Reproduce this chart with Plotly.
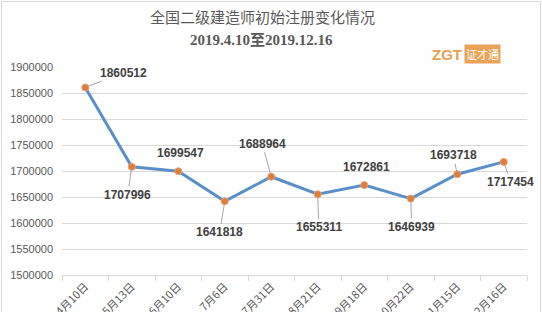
import plotly.graph_objects as go

categories = ["4月10日", "5月13日", "6月10日", "7月6日", "7月31日",
              "8月21日", "9月18日", "10月22日", "11月15日", "12月16日"]
values = [1860512, 1707996, 1699547, 1641818, 1688964,
          1655311, 1672861, 1646939, 1693718, 1717454]
y_ticks = [1500000, 1550000, 1600000, 1650000, 1700000,
           1750000, 1800000, 1850000, 1900000]

# label offsets (pixels) and whether a leader line is drawn
label_offsets = [(38, -15, True), (-4, 28, True), (2, -18, False), (-5, 31, True),
                 (-9, -33, True), (1, 33, True), (2, -18, False), (1, 28, True),
                 (-4, -19, True), (7, 20, True)]

W, H = 542, 312
L, R, T, B = 62, 15, 67, 37
pw, ph = W - L - R, H - T - B


def px(xp):
    return (xp - L) / pw


def py(yp):
    return (H - B - yp) / ph


fig = go.Figure()
fig.add_trace(go.Scatter(
    x=categories, y=values, mode="lines+markers",
    line=dict(color="#5B8FC7", width=3),
    marker=dict(color="#E07B39", size=7, line=dict(color="#E8A070", width=1)),
    hoverinfo="skip", showlegend=False,
))

annotations = []
for c, v, (ax, ay, lead) in zip(categories, values, label_offsets):
    annotations.append(dict(
        x=c, y=v, xref="x", yref="y", text=f"<b>{v}</b>",
        showarrow=True, ax=ax, ay=ay, axref="pixel", ayref="pixel",
        arrowhead=0, arrowwidth=1, standoff=3,
        arrowcolor="#A6A6A6" if lead else "rgba(0,0,0,0)",
        font=dict(family="Liberation Sans, Arial", size=12, color="#404040"),
    ))

annotations += [
    dict(x=px(262), y=py(17), xref="paper", yref="paper", showarrow=False,
         text="全国二级建造师初始注册变化情况", xanchor="center", yanchor="middle",
         font=dict(family="Noto Sans CJK SC", size=15, color="#595959")),
    dict(x=px(261), y=py(40), xref="paper", yref="paper", showarrow=False,
         text="<b>2019.4.10至2019.12.16</b>", xanchor="center", yanchor="middle",
         font=dict(family="Liberation Serif, Noto Sans CJK SC", size=15, color="#595959")),
    dict(x=px(447), y=py(54), xref="paper", yref="paper", showarrow=False,
         text="<b>ZGT</b>", xanchor="center", yanchor="middle",
         font=dict(family="Liberation Sans", size=15, color="#E8A050")),
    dict(x=px(482), y=py(54), xref="paper", yref="paper", showarrow=False,
         text="证才通", xanchor="center", yanchor="middle", bgcolor="#E9A45A",
         borderpad=1,
         font=dict(family="Noto Sans CJK SC", size=11, color="#FFFFFF")),
]

fig.update_layout(
    width=W, height=H,
    margin=dict(l=L, r=R, t=T, b=B, autoexpand=False),
    paper_bgcolor="#FFFFFF", plot_bgcolor="#FFFFFF",
    annotations=annotations,
    shapes=[dict(type="rect", xref="paper", yref="paper",
                 x0=px(1.5), x1=px(540.5), y0=py(330), y1=py(1.5),
                 line=dict(color="#D9D9D9", width=1), layer="below")],
    xaxis=dict(
        type="category", tickangle=-45, tickson="boundaries",
        ticks="outside", ticklen=5, tickcolor="#D9D9D9",
        showline=True, linecolor="#D9D9D9", linewidth=1,
        showgrid=False, automargin=False, fixedrange=True,
        range=[-0.5, len(categories) - 0.5],
        tickfont=dict(family="Noto Sans CJK SC", size=11, color="#595959"),
    ),
    yaxis=dict(
        range=[1500000, 1900000], tickmode="array", tickvals=y_ticks,
        ticktext=[str(t) for t in y_ticks],
        showgrid=True, gridcolor="#D9D9D9", gridwidth=1,
        zeroline=False, showline=False, ticks="", automargin=False,
        ticklabelstandoff=8,
        tickfont=dict(family="Liberation Sans, Arial", size=11, color="#595959"),
    ),
)

fig.write_html("out.html")
